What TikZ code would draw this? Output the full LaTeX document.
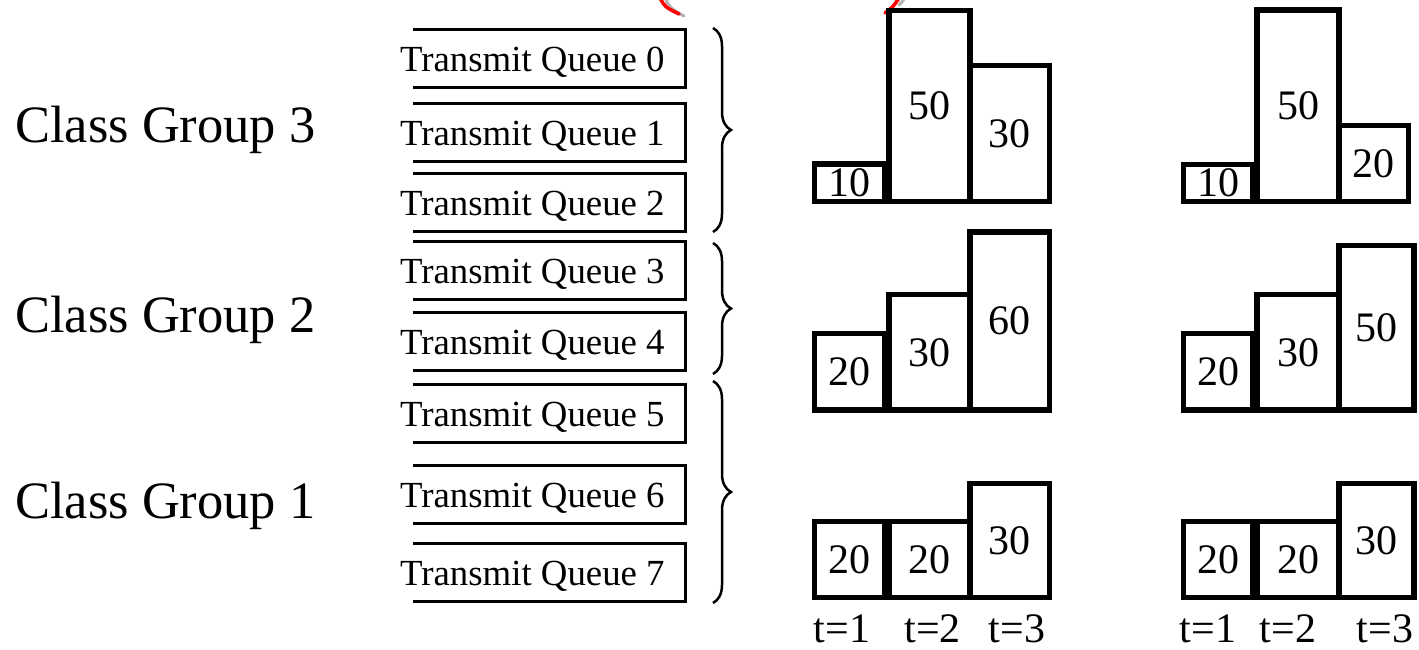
\documentclass[tikz,border=0pt]{standalone}
\usepackage{fontspec}
\setmainfont{Liberation Serif}
\usetikzlibrary{decorations.pathreplacing}
\begin{document}
\begin{tikzpicture}[x=1pt,y=-1pt,
  qbox/.style={minimum width=272pt, minimum height=58pt, inner sep=0pt, outer sep=0pt},
  qedge/.style={line width=3pt, line join=miter},
  qtext/.style={anchor=base west, inner sep=0pt, font=\fontsize{36.8}{40}\selectfont},
  grouplabel/.style={anchor=base west, inner sep=0pt, font=\fontsize{52.5}{60}\selectfont},
  bar/.style={draw, line width=5.5pt, inner sep=0pt, outer sep=0pt, font=\fontsize{42}{46}\selectfont},
  tlabel/.style={anchor=base, inner sep=0pt, text depth=0pt, font=\fontsize{42}{46}\selectfont},
  grpbrace/.style={decorate, decoration={brace, amplitude=18pt, aspect=0.5}, line width=2.5pt},
  redmark/.style={red, line width=3.5pt, line cap=round},
  markshade/.style={black!30, line width=3pt, line cap=round}]
\useasboundingbox (0,0) rectangle (1419,649);
\clip (0,0) rectangle (1419,649);

% red marks at the top edge
\draw[markshade] (665,-2) .. controls (670,8) .. (684,16);
\draw[redmark] (660,-2) .. controls (665,7) .. (679,14);
\draw[markshade] (905,-3) .. controls (903,1) .. (899,5);
\draw[redmark] (899,-2) .. controls (893,7) .. (885,13);

% class group labels
\node[grouplabel] (cg3) at (15,142) {Class Group 3};
\node[grouplabel] (cg2) at (15,332) {Class Group 2};
\node[grouplabel] (cg1) at (15,518) {Class Group 1};

% transmit queues (boxes open on the left)
\foreach \i/\y in {0/58,1/132.5,2/202,3/270.5,4/341.5,5/413,6/494,7/572} {
  \node[qbox] (q\i) at (549,\y) {};
  \draw[qedge] (q\i.north west) -- (q\i.north east) -- (q\i.south east) -- (q\i.south west);
  \node[qtext] (qt\i) at (400,\y+13) {Transmit Queue \i};
}

% braces grouping the queues
\coordinate (b3top) at (713,28);  \coordinate (b3bot) at (713,232);
\coordinate (b2top) at (713,243); \coordinate (b2bot) at (713,374);
\coordinate (b1top) at (713,381); \coordinate (b1bot) at (713,603);
\draw[grpbrace] (b3top) -- (b3bot);
\draw[grpbrace] (b2top) -- (b2bot);
\draw[grpbrace] (b1top) -- (b1bot);

% left bar charts
\node[bar, minimum width=70.5pt, minimum height=37.5pt] (a1b1) at (849.75,182.75) {10};
\node[bar, minimum width=81pt,   minimum height=191pt]  (a1b2) at (929.5,106) {50};
\node[bar, minimum width=79.5pt, minimum height=136pt]  (a1b3) at (1009.75,133.5) {30};

\node[bar, minimum width=70.5pt, minimum height=76.5pt]  (a2b1) at (849.75,371.75) {20};
\node[bar, minimum width=81pt,   minimum height=115.5pt] (a2b2) at (929.5,352.25) {30};
\node[bar, minimum width=79.5pt, minimum height=178pt]   (a2b3) at (1009.75,321) {60};

\node[bar, minimum width=70.5pt, minimum height=76pt]  (a3b1) at (849.75,559.5) {20};
\node[bar, minimum width=81pt,   minimum height=76pt]  (a3b2) at (929.5,559.5) {20};
\node[bar, minimum width=79.5pt, minimum height=114pt] (a3b3) at (1009.75,540.5) {30};

% right bar charts
\node[bar, minimum width=69.5pt, minimum height=37pt]    (b1b1) at (1218.25,183) {10};
\node[bar, minimum width=82pt,   minimum height=191.5pt] (b1b2) at (1298,105.75) {50};
\node[bar, minimum width=69.5pt, minimum height=76pt]    (b1b3) at (1373.75,163.5) {20};

\node[bar, minimum width=69.5pt, minimum height=76.5pt]  (b2b1) at (1218.25,371.75) {20};
\node[bar, minimum width=82pt,   minimum height=115.5pt] (b2b2) at (1298,352.25) {30};
\node[bar, minimum width=75pt,   minimum height=164.5pt] (b2b3) at (1376.5,327.75) {50};

\node[bar, minimum width=69.5pt, minimum height=76pt]  (b3b1) at (1218.25,559.5) {20};
\node[bar, minimum width=82pt,   minimum height=76pt]  (b3b2) at (1298,559.5) {20};
\node[bar, minimum width=75pt,   minimum height=114pt] (b3b3) at (1376.5,540.5) {30};

% time axis labels
\node[tlabel] (ta1) at (842,642) {t=1};
\node[tlabel] (ta2) at (932.5,642) {t=2};
\node[tlabel] (ta3) at (1017,642) {t=3};
\node[tlabel] (tb1) at (1208,642) {t=1};
\node[tlabel] (tb2) at (1288,642) {t=2};
\node[tlabel] (tb3) at (1385,642) {t=3};
\end{tikzpicture}
\end{document}
